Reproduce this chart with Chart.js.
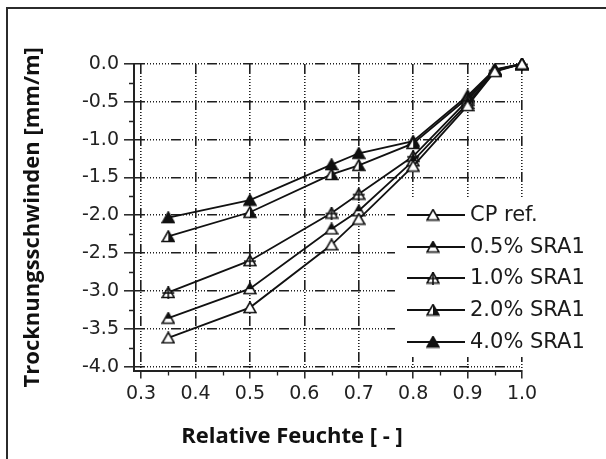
<!DOCTYPE html>
<html>
<head>
<meta charset="utf-8">
<title>Trocknungsschwinden</title>
<script src="https://cdn.jsdelivr.net/npm/chart.js@4.4.0/dist/chart.umd.min.js"></script>
<style>
  html, body { margin: 0; padding: 0; background: #fff; }
  #wrap { position: relative; width: 606px; height: 459px; }
  #frame { position: absolute; left: 6px; top: 7px; width: 600px; height: 452px;
           border-left: 2px solid #2b2b2b; border-top: 2px solid #2b2b2b; pointer-events: none; }
  canvas { position: absolute; left: 0; top: 0; }
</style>
</head>
<body>
<div id="wrap">
  <canvas id="shrinkage" width="606" height="459"></canvas>
  <div id="frame"></div>
</div>
<script>
// relative humidity steps and drying shrinkage per mix [mm/m]
const humidity = [0.35, 0.5, 0.65, 0.7, 0.8, 0.9, 0.95, 1.0];
const cpRef = [-3.62, -3.22, -2.39, -2.05, -1.35, -0.55, -0.10, 0.0];
const sra05 = [-3.36, -2.97, -2.18, -1.94, -1.28, -0.52, -0.09, 0.0];
const sra10 = [-3.02, -2.60, -1.97, -1.72, -1.22, -0.48, -0.08, 0.0];
const sra20 = [-2.28, -1.96, -1.46, -1.34, -1.05, -0.45, -0.08, 0.0];
const sra40 = [-2.03, -1.80, -1.33, -1.18, -1.02, -0.42, -0.07, 0.0];
const seriesNames = ["CP ref.", "0.5% SRA1", "1.0% SRA1", "2.0% SRA1", "4.0% SRA1"];

const xTicks = [0.3, 0.4, 0.5, 0.6, 0.7, 0.8, 0.9, 1.0];
const yTicks = [0.0, -0.5, -1.0, -1.5, -2.0, -2.5, -3.0, -3.5, -4.0];

const INK = "#111";
// long dash followed by a dotted run
const gridDash = [10, 2, 1, 2, 1, 2, 1, 2, 1, 2, 1, 2, 1, 2, 1, 2, 1, 2];

// triangle symbols: open, top half filled, crossed, right half filled, solid
function marker(kind) {
  const c = document.createElement("canvas");
  c.width = 14; c.height = 13;
  const g = c.getContext("2d");
  const tri = () => {
    g.beginPath();
    g.moveTo(7, 1); g.lineTo(13, 11.5); g.lineTo(1, 11.5);
    g.closePath();
  };
  tri();
  g.fillStyle = kind === "solid" ? INK : "#fff";
  g.fill();
  if (kind === "top" || kind === "right") {
    g.save();
    tri(); g.clip();
    g.fillStyle = INK;
    if (kind === "top") g.fillRect(0, 0, 14, 7);
    else g.fillRect(7, 0, 7, 13);
    g.restore();
  }
  tri();
  g.lineWidth = 1.6;
  g.strokeStyle = INK;
  g.stroke();
  if (kind === "plus") {
    g.beginPath();
    g.moveTo(7, 0); g.lineTo(7, 13);
    g.moveTo(1, 7); g.lineTo(13, 7);
    g.stroke();
  }
  return c;
}

const seriesValues = [cpRef, sra05, sra10, sra20, sra40];
const markerKinds = ["open", "top", "plus", "right", "solid"];

const datasets = seriesValues.map((vals, i) => ({
  label: seriesNames[i],
  data: humidity.map((h, j) => ({ x: h, y: vals[j] })),
  borderColor: INK,
  borderWidth: 1.8,
  pointStyle: marker(markerKinds[i]),
  pointRadius: 6,
  tension: 0,
  clip: false
}));

const minorTicks = {
  id: "minorTicks",
  afterDraw(chart) {
    const { ctx, chartArea, scales: { x, y } } = chart;
    ctx.save();
    ctx.strokeStyle = "#222";
    ctx.lineWidth = 1.3;
    ctx.beginPath();
    for (let i = 0; i < xTicks.length - 1; i++) {
      const px = Math.round(x.getPixelForValue((xTicks[i] + xTicks[i + 1]) / 2)) + 0.5;
      ctx.moveTo(px, chartArea.bottom);
      ctx.lineTo(px, chartArea.bottom + 5);
    }
    for (let i = 0; i < yTicks.length - 1; i++) {
      const py = Math.round(y.getPixelForValue((yTicks[i] + yTicks[i + 1]) / 2)) + 0.5;
      ctx.moveTo(chartArea.left, py);
      ctx.lineTo(chartArea.left - 5, py);
    }
    ctx.stroke();
    ctx.restore();
  }
};

const insetLegend = {
  id: "insetLegend",
  afterDatasetsDraw(chart) {
    const { ctx, chartArea } = chart;
    const left = chartArea.right - 127;
    const top = chartArea.top + 133;
    ctx.save();
    ctx.fillStyle = "#fff";
    ctx.fillRect(left, top, 210, 160);
    chart.data.datasets.forEach((ds, i) => {
      const cy = Math.round(top + 18 + i * 31.7);
      ctx.strokeStyle = INK;
      ctx.lineWidth = 1.8;
      ctx.beginPath();
      ctx.moveTo(left + 12, cy);
      ctx.lineTo(left + 70, cy);
      ctx.stroke();
      const img = ds.pointStyle;
      ctx.drawImage(img, left + 38 - img.width / 2, cy - img.height / 2);
      ctx.fillStyle = "#1a1a1a";
      ctx.font = '21px "DejaVu Sans"';
      ctx.textBaseline = "middle";
      ctx.fillText(ds.label, left + 75, cy + 1);
    });
    ctx.restore();
  }
};

const tickFont = { family: "DejaVu Sans", size: 19 };
const titleFont = { family: "Open Sans", weight: "bold", size: 22 };

new Chart(document.getElementById("shrinkage").getContext("2d"), {
  type: "line",
  data: { datasets },
  options: {
    responsive: false,
    animation: false,
    layout: { padding: { left: 18, right: 40, top: 64, bottom: 9 } },
    plugins: {
      legend: { display: false },
      tooltip: { enabled: false },
      title: {
        display: true,
        position: "bottom",
        text: "Relative Feuchte [ - ]",
        color: INK,
        font: titleFont,
        padding: { top: 0, bottom: 0 }
      }
    },
    scales: {
      x: {
        type: "linear",
        min: 0.287,
        max: 1.0,
        afterBuildTicks: s => { s.ticks = xTicks.map(v => ({ value: v })); },
        afterFit: s => { s.height = 53; },
        grid: { color: "#1e1e1e", lineWidth: 1.6, tickLength: 8, tickColor: "#222", tickWidth: 1.5 },
        border: { color: "#222", width: 2, dash: gridDash },
        ticks: {
          color: "#222",
          font: tickFont,
          padding: 4,
          autoSkip: false,
          maxRotation: 0,
          callback: v => v.toFixed(1)
        }
      },
      y: {
        type: "linear",
        min: -4.053,
        max: 0,
        afterBuildTicks: s => { s.ticks = yTicks.map(v => ({ value: v })); },
        afterFit: s => { s.width = 116; },
        grid: { color: "#1e1e1e", lineWidth: 1.6, tickLength: 10, tickColor: "#222", tickWidth: 1.5 },
        border: { color: "#222", width: 2, dash: gridDash },
        ticks: {
          color: "#222",
          font: tickFont,
          padding: 5,
          callback: v => v.toFixed(1)
        },
        title: {
          display: true,
          text: "Trocknungsschwinden [mm/m]",
          color: INK,
          font: titleFont,
          padding: { top: 2, bottom: 0 }
        }
      },
      // keeps the plot's right edge clear of the legend column
      yRight: {
        position: "right",
        display: true,
        grid: { display: false, drawTicks: false },
        border: { display: false },
        ticks: { display: false },
        afterFit: s => { s.width = 44; }
      }
    }
  },
  plugins: [minorTicks, insetLegend]
});
</script>
</body>
</html>
